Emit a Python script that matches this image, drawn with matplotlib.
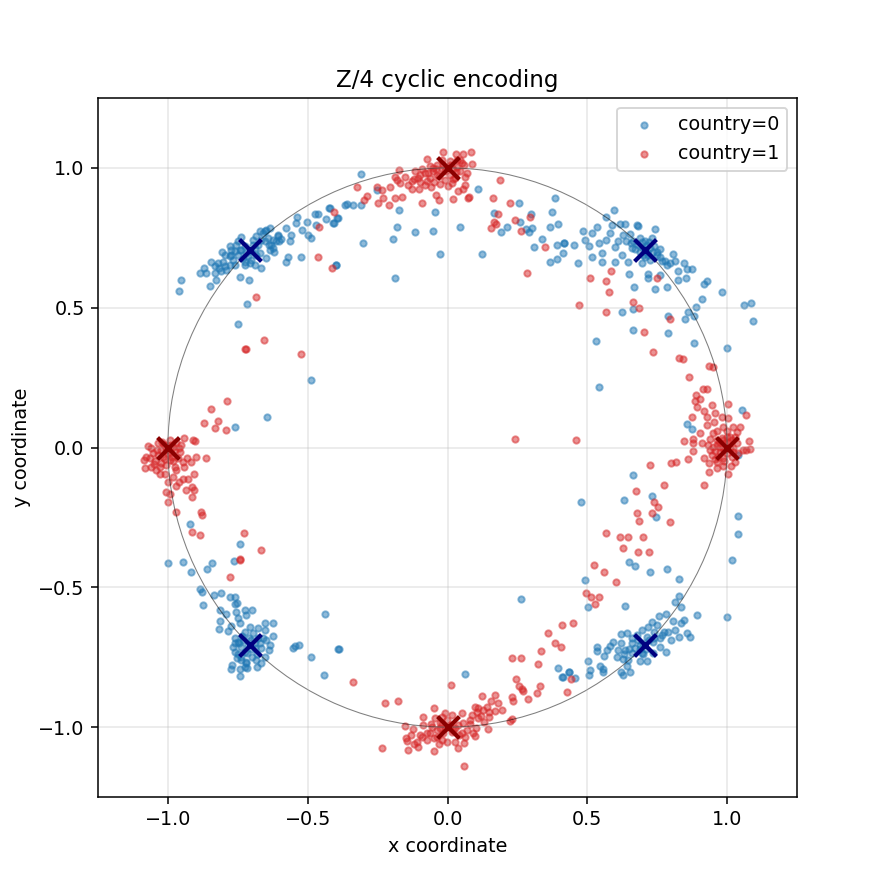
import matplotlib
matplotlib.use("Agg")
import matplotlib.pyplot as plt
from matplotlib.patches import Circle

title = "Z/4 cyclic encoding"
xlabel = "x coordinate"
ylabel = "y coordinate"
labels = ["country=0", "country=1"]
ticks = [-1.0, -0.5, 0.0, 0.5, 1.0]

blue_pts = [
    (-0.960,0.559),(-0.952,0.598),(-0.884,0.624),(-0.872,0.642),(-0.865,0.624),(-0.851,0.576),
    (-0.845,0.663),(-0.829,0.598),(-0.833,0.624),(-0.818,0.642),(-0.808,0.699),(-0.803,0.665),
    (-0.791,0.636),(-0.779,0.720),(-0.773,0.690),(-0.761,0.654),(-0.749,0.738),(-0.743,0.609),
    (-0.737,0.752),(-0.725,0.665),(-0.717,0.513),(-0.711,0.600),(-0.749,0.442),(-0.695,0.726),
    (-0.684,0.690),(-0.666,0.642),(-0.660,0.767),(-0.648,0.779),(-0.636,0.785),(-0.648,0.678),
    (-0.630,0.726),(-0.619,0.699),(-0.607,0.761),(-0.603,0.737),(-0.594,0.747),(-0.576,0.785),
    (-0.570,0.680),(-0.579,0.662),(-0.564,0.737),(-0.558,0.761),(-0.541,0.803),(-0.539,0.824),
    (-0.524,0.681),(-0.522,0.779),(-0.504,0.806),(-0.499,0.761),(-0.487,0.749),(-0.475,0.835),
    (-0.470,0.797),(-0.462,0.835),(-0.433,0.818),(-0.424,0.857),(-0.407,0.803),(-0.398,0.654),
    (-0.392,0.820),
    (-0.773,0.708),(-0.761,0.702),(-0.749,0.690),(-0.737,0.708),(-0.731,0.678),(-0.725,0.720),
    (-0.720,0.696),(-0.714,0.684),(-0.702,0.702),(-0.690,0.714),(-0.678,0.726),(-0.672,0.696),
    (-0.666,0.743),(-0.654,0.737),(-0.642,0.749),(-0.636,0.708),(-0.624,0.743),(-0.612,0.737),
    (-0.708,0.660),(-0.725,0.654),(-0.743,0.708),(-0.755,0.726),(-0.767,0.672),(-0.779,0.654),
    (-0.797,0.648),(-0.809,0.630),(-0.821,0.660),(-0.833,0.648),(-0.797,0.690),(-0.779,0.684),
    (-0.696,0.743),(-0.684,0.755),(-0.672,0.773),(-0.654,0.773),(-0.640,0.726),(-0.624,0.714),
    (-0.606,0.756),(-0.690,0.654),(-0.702,0.672),
    (-0.309,0.978),(-0.367,0.868),(-0.361,0.871),(-0.337,0.866),(-0.309,0.866),(-0.420,0.857),
    (-0.396,0.821),(-0.408,0.802),(-0.399,0.651),(-0.301,0.731),(-0.253,0.922),(-0.172,0.848),
    (-0.179,0.787),(-0.194,0.744),(-0.115,0.769),(-0.051,0.773),(-0.043,0.844),(-0.027,0.692),
    (-0.186,0.608),(0.046,0.788),(0.110,0.924),(0.122,0.692),(0.168,0.837),(0.193,0.769),
    (0.212,0.787),(0.257,0.876),(0.260,0.808),(0.279,0.782),(0.293,0.769),(0.304,0.784),
    (0.300,0.835),(0.311,0.717),(0.339,0.745),(0.367,0.787),(0.367,0.663),(0.375,0.844),
    (0.386,0.894),(0.396,0.801),(0.390,0.725),(0.393,0.674),(0.418,0.731),(0.414,0.694),
    (0.596,0.848),(0.567,0.823),(0.536,0.787),(0.518,0.767),(0.483,0.776),(0.490,0.742),
    (0.454,0.723),(0.418,0.730),(0.468,0.660),(0.505,0.721),(0.518,0.680),(0.541,0.730),
    (0.554,0.694),(0.553,0.663),(0.567,0.741),(0.581,0.767),(0.587,0.797),(0.599,0.716),
    (0.599,0.663),(0.611,0.738),(0.617,0.799),(0.635,0.799),(0.623,0.690),(0.629,0.761),
    (0.640,0.738),(0.647,0.663),(0.653,0.764),(0.659,0.714),(0.665,0.738),(0.677,0.795),
    (0.683,0.791),(0.689,0.749),(0.695,0.660),(0.698,0.690),(0.706,0.738),(0.712,0.726),
    (0.718,0.690),(0.724,0.672),(0.730,0.749),(0.742,0.781),(0.748,0.690),(0.760,0.711),
    (0.766,0.666),(0.778,0.666),(0.784,0.654),(0.796,0.660),(0.807,0.692),(0.813,0.666),
    (0.825,0.633),(0.825,0.600),(0.847,0.660),(0.855,0.637),(0.873,0.637),(0.853,0.606),
    (0.718,0.608),(0.650,0.620),(0.668,0.573),(0.742,0.567),(0.784,0.573),(0.760,0.618),
    (0.716,0.621),(0.917,0.586),(0.929,0.597),(0.983,0.556),(0.911,0.530),(0.889,0.501),
    (0.861,0.484),(0.883,0.469),(0.849,0.459),(0.790,0.469),(0.665,0.496),(0.625,0.484),
    (0.665,0.419),(0.790,0.410),(1.062,0.508),(1.084,0.517),(1.091,0.451),
    (0.700,0.715),(0.690,0.700),(0.715,0.700),(0.725,0.715),(0.705,0.680),(0.735,0.700),
    (0.740,0.720),(0.680,0.725),(0.670,0.710),(0.695,0.735),(0.720,0.735),(0.750,0.700),
    (0.760,0.680),(0.655,0.730),
    (-0.487,0.240),(-0.644,0.108),(-0.759,0.075),(-0.922,-0.274),(-0.743,-0.345),(-1.000,-0.414),
    (-0.946,-0.411),(-0.841,-0.414),(-0.764,-0.406),(-0.859,-0.434),
    (0.531,0.380),(0.883,0.373),(1.001,0.355),(0.543,0.215),(1.054,0.134),(0.858,0.083),
    (0.873,0.065),(1.040,-0.027),(0.665,-0.100),(0.479,-0.196),(0.632,-0.186),(0.733,-0.174),
    (0.747,-0.250),(1.040,-0.245),(1.040,-0.310),(1.019,-0.402),(0.650,-0.411),(0.672,-0.424),
    (0.786,-0.435),
    (-0.916,-0.446),(-0.886,-0.507),(-0.877,-0.518),(-0.873,-0.563),(-0.835,-0.528),(-0.809,-0.522),
    (-0.779,-0.534),(-0.761,-0.534),(-0.759,-0.560),(-0.752,-0.557),(-0.815,-0.581),(-0.791,-0.595),
    (-0.813,-0.620),(-0.816,-0.650),(-0.786,-0.655),(-0.774,-0.638),(-0.758,-0.587),(-0.750,-0.611),
    (-0.725,-0.581),(-0.699,-0.581),(-0.719,-0.599),(-0.741,-0.629),(-0.653,-0.629),(-0.624,-0.629),
    (-0.624,-0.674),(-0.653,-0.653),(-0.677,-0.647),(-0.707,-0.641),(-0.725,-0.659),(-0.761,-0.683),
    (-0.767,-0.712),(-0.761,-0.730),(-0.752,-0.754),(-0.737,-0.748),(-0.719,-0.766),(-0.725,-0.786),
    (-0.743,-0.793),(-0.773,-0.793),(-0.769,-0.779),(-0.741,-0.817),(-0.716,-0.790),(-0.683,-0.784),
    (-0.668,-0.772),(-0.653,-0.748),(-0.639,-0.724),(-0.636,-0.706),(-0.648,-0.688),(-0.677,-0.683),
    (-0.689,-0.718),(-0.716,-0.736),(-0.737,-0.712),(-0.749,-0.694),(-0.702,-0.688),(-0.666,-0.718),
    (-0.745,-0.700),(-0.730,-0.690),(-0.715,-0.705),(-0.700,-0.720),(-0.690,-0.700),(-0.680,-0.740),
    (-0.700,-0.750),(-0.725,-0.730),(-0.740,-0.760),(-0.760,-0.700),(-0.710,-0.680),(-0.695,-0.665),
    (-0.670,-0.700),(-0.660,-0.680),(-0.720,-0.770),(-0.750,-0.740),(-0.735,-0.675),(-0.685,-0.760),
    (-0.552,-0.718),(-0.547,-0.710),(-0.532,-0.706),(-0.487,-0.750),(-0.437,-0.596),(-0.443,-0.815),
    (-0.392,-0.722),
    (-0.387,-0.722),(0.263,-0.543),(0.063,-0.811),(0.396,-0.790),(0.411,-0.822),(0.435,-0.804),
    (0.724,-0.446),(0.829,-0.470),(0.493,-0.475),(0.503,-0.572),(0.636,-0.567),(0.829,-0.531),
    (0.814,-0.554),(0.834,-0.572),(0.893,-0.599),(1.001,-0.607),(0.757,-0.603),(0.781,-0.596),
    (0.805,-0.621),(0.834,-0.626),(0.846,-0.617),(0.858,-0.662),(0.869,-0.679),(0.827,-0.679),
    (0.799,-0.688),(0.781,-0.732),(0.814,-0.653),(0.790,-0.659),(0.766,-0.671),(0.748,-0.635),
    (0.730,-0.623),(0.718,-0.641),(0.694,-0.653),(0.677,-0.671),(0.659,-0.683),(0.641,-0.665),
    (0.620,-0.667),(0.593,-0.694),(0.581,-0.710),(0.569,-0.724),(0.561,-0.746),(0.533,-0.715),
    (0.533,-0.727),(0.503,-0.762),(0.509,-0.796),(0.507,-0.815),(0.545,-0.781),(0.555,-0.791),
    (0.557,-0.802),(0.621,-0.802),(0.626,-0.814),(0.653,-0.803),(0.641,-0.781),(0.647,-0.760),
    (0.628,-0.755),(0.605,-0.748),(0.611,-0.724),(0.635,-0.724),(0.659,-0.736),(0.688,-0.762),
    (0.714,-0.762),(0.736,-0.736),(0.760,-0.712),(0.736,-0.694),(0.712,-0.676),(0.688,-0.706),
    (0.670,-0.718),(0.694,-0.736),(0.412,-0.820),(0.436,-0.803),(0.456,-0.826),
    (0.700,-0.700),(0.720,-0.690),(0.680,-0.690),(0.710,-0.720),(0.740,-0.680),(0.660,-0.700),
    (0.650,-0.720),(0.690,-0.720),(0.760,-0.680),(0.775,-0.660),(0.620,-0.700),(0.630,-0.740),
    (0.740,-0.660),(0.700,-0.740),
]

red_pts = [
    (-0.406,0.842),(-0.459,0.787),(-0.463,0.680),(-0.412,0.642),(-0.684,0.537),(-0.656,0.385),
    (-0.723,0.352),
    (-0.015,1.057),(-0.072,1.032),(0.030,1.049),(0.057,1.049),(0.083,1.057),(0.086,1.014),
    (0.062,0.966),(0.064,0.940),(0.057,0.926),(0.039,0.919),(0.021,0.889),(0.072,0.892),
    (0.078,0.895),(-0.029,0.884),(-0.041,0.902),(-0.090,0.873),(-0.172,0.992),(-0.186,0.969),
    (-0.181,0.957),(-0.170,0.946),(-0.140,0.940),(-0.128,0.926),(-0.101,0.926),(-0.128,0.954),
    (-0.104,0.964),(-0.116,0.990),(-0.080,0.982),(-0.063,0.964),(-0.051,1.000),(-0.039,0.976),
    (-0.027,0.942),(-0.009,0.957),(0.015,0.946),(0.027,0.964),(0.045,0.988),(0.051,1.017),
    (0.033,1.030),(0.009,1.024),(-0.015,1.012),(-0.039,1.012),(-0.063,1.006),(-0.051,0.988),
    (-0.075,0.952),(-0.152,0.966),(-0.206,0.930),(-0.235,0.921),(-0.229,0.894),(-0.253,0.933),
    (-0.322,0.930),(-0.289,0.900),(-0.297,0.886),(-0.250,0.876),(-0.211,0.868),(-0.186,0.892),
    (-0.161,0.895),
    (-0.020,0.995),(0.000,1.005),(0.020,0.995),(-0.030,0.970),(0.010,0.975),(-0.090,0.995),
    (-0.100,0.950),(0.035,1.005),(-0.060,0.930),(0.000,0.935),
    (-0.010,0.990),(0.010,1.010),(0.030,0.985),(-0.040,0.995),(-0.070,0.980),(-0.020,1.030),
    (0.045,1.030),(0.060,1.010),(-0.100,0.975),(-0.120,0.960),(-0.080,0.940),(0.020,0.960),
    (-0.050,0.950),(0.070,0.980),
    (0.188,0.955),(0.164,0.892),(0.224,0.873),(0.182,0.835),(0.166,0.806),(0.172,0.799),
    (0.155,0.785),(0.241,0.812),(0.263,0.773),(0.295,0.826),(0.349,0.717),(0.286,0.624),
    (0.509,0.608),(0.585,0.630),(0.567,0.594),(0.577,0.556),(0.472,0.508),(0.567,0.484),
    (0.665,0.520),(0.686,0.499),(0.750,0.608),(0.796,0.459),(0.704,0.413),
    (-0.719,0.351),(-0.523,0.336),(-0.787,0.167),(-0.845,0.137),(-0.871,0.086),(-0.821,0.095),
    (-0.830,0.069),(-0.791,0.063),(-0.943,0.033),(-0.910,0.027),(-0.904,0.024),(-0.898,-0.035),
    (-0.863,-0.039),(-0.930,-0.039),(-0.918,-0.051),(-0.944,-0.071),(-0.906,-0.095),(-0.983,-0.104),
    (-0.929,-0.113),(-0.946,-0.114),(-1.000,-0.124),(-0.962,-0.125),(-0.970,-0.137),(-0.913,-0.142),
    (-0.907,-0.152),(-0.936,-0.152),(-1.006,-0.160),(-0.991,-0.167),(-0.914,-0.176),(-0.998,-0.196),
    (-0.970,-0.229),(-0.881,-0.229),(-0.877,-0.241),(-0.913,-0.301),(-0.884,-0.313),(-0.728,-0.307),
    (-0.666,-0.367),(-0.743,-0.399),
    (-1.083,-0.074),(-1.071,0.006),(-1.065,-0.039),(-1.059,-0.069),(-1.053,-0.020),(-1.047,-0.050),
    (-1.041,-0.080),(-1.035,0.015),(-1.029,-0.095),(-1.023,-0.009),(-1.023,-0.057),(-1.017,-0.033),
    (-1.012,-0.095),(-1.012,0.009),(-1.006,-0.063),(-0.994,0.027),(-0.994,-0.044),(-0.988,-0.020),
    (-0.982,0.003),(-0.976,-0.069),(-0.970,0.021),(-0.964,-0.039),(-0.958,-0.015),(-0.952,0.009),
    (-0.946,-0.051),(-1.085,-0.045),(-1.077,-0.033),(-1.059,-0.003),(-1.035,-0.027),(-1.006,-0.009),
    (-0.976,-0.009),(-1.000,0.000),(-1.015,0.010),(-0.985,-0.035),
    (-1.000,-0.020),(-1.010,-0.040),(-0.990,0.010),(-1.020,0.020),(-0.980,-0.050),(-1.040,-0.010),
    (-0.960,0.000),(-1.050,-0.060),(-0.970,-0.080),(-1.030,-0.070),
    (0.243,0.029),(0.460,0.027),
    (0.736,0.340),(0.829,0.319),(0.841,0.315),(0.936,0.291),(0.948,0.287),(0.865,0.251),
    (0.915,0.208),(0.929,0.208),(0.888,0.187),(0.885,0.166),(0.903,0.172),(0.891,0.144),
    (0.945,0.151),(1.004,0.154),(0.917,0.132),(0.927,0.108),(0.957,0.125),(0.927,0.079),
    (0.953,0.092),(0.980,0.108),(1.004,0.104),(0.873,0.108),(1.066,0.115),(1.022,0.072),
    (1.046,0.072),(1.034,0.057),(0.984,0.072),(0.903,0.051),(0.951,0.051),(0.877,0.029),
    (0.847,0.023),(0.879,0.015),(0.909,0.015),(0.933,0.009),(1.080,0.023),(1.082,-0.005),
    (1.068,-0.009),(1.056,-0.009),(1.034,0.015),(0.963,0.027),(0.975,0.003),(0.957,-0.014),
    (0.945,-0.027),(0.879,-0.013),(0.861,-0.042),(0.917,-0.036),(0.936,-0.057),(0.963,-0.051),
    (0.986,-0.039),(1.016,-0.033),(1.028,-0.051),(1.013,-0.066),(0.986,-0.066),(0.963,-0.075),
    (0.936,-0.087),(1.004,-0.096),(0.917,-0.135),(0.817,-0.052),(0.799,-0.057),(0.724,-0.063),
    (0.776,-0.135),(0.675,-0.157),(0.740,-0.195),(0.754,-0.214),(0.679,-0.236),(0.732,-0.236),
    (0.686,-0.264),(0.796,-0.268),(0.568,-0.307),(0.618,-0.321),(0.647,-0.321),(0.700,-0.321),
    (0.629,-0.361),(0.682,-0.375),(0.722,-0.375),(0.525,-0.421),(0.986,0.027),(1.010,0.039),
    (0.963,0.009),(0.975,-0.015),(0.992,0.015),(0.998,-0.021),(1.010,-0.003),(1.022,-0.015),
    (0.986,-0.003),(0.969,-0.033),(0.951,0.003),(0.939,-0.009),(1.016,0.027),(1.028,0.039),
    (0.998,0.039),(0.980,0.033),
    (1.000,0.000),(0.990,-0.010),(1.005,0.020),(0.970,0.020),(1.020,0.000),(0.955,-0.040),
    (0.990,-0.050),(1.000,0.060),(0.940,0.030),(0.965,0.060),(1.040,-0.020),
    (-0.779,-0.464),(-0.743,-0.402),
    (-0.337,-0.840),(-0.222,-0.915),(-0.176,-0.908),(-0.233,-1.076),(0.014,-0.851),(0.060,-1.139),
    (-0.047,-1.087),(-0.140,-1.082),(-0.151,-0.995),(-0.124,-1.008),(-0.149,-1.040),(-0.146,-1.048),
    (-0.119,-1.060),(-0.107,-1.072),(-0.098,-1.028),(-0.086,-0.963),(-0.086,-0.992),(-0.074,-1.046),
    (-0.063,-1.022),(-0.057,-0.998),(-0.047,-0.933),(-0.045,-0.969),(-0.039,-1.034),(-0.027,-0.986),
    (-0.021,-0.963),(-0.015,-1.022),(-0.003,-1.052),(0.015,-0.957),(0.027,-1.052),(0.039,-1.076),
    (0.051,-0.951),(0.057,-0.986),(0.060,-1.058),(0.063,-1.034),(0.069,-1.010),(0.081,-0.974),
    (0.086,-0.957),(0.098,-0.927),(0.100,-1.032),(0.101,-1.004),(0.104,-0.945),(0.110,-0.969),
    (0.122,-0.888),(0.128,-0.939),(0.140,-0.927),(0.146,-1.007),(0.150,-0.963),(0.155,-0.905),
    (0.170,-0.885),(0.170,-0.941),(0.180,-0.913),(0.196,-0.939),(0.224,-0.977),(0.230,-0.972),
    (0.230,-0.891),(0.233,-0.905),(0.230,-0.754),(0.244,-0.828),(0.257,-0.853),(0.265,-0.865),
    (0.271,-0.870),(0.262,-0.754),(0.287,-0.900),(0.321,-0.879),(0.331,-0.853),(0.325,-0.776),
    (0.334,-0.728),(0.361,-0.665),(0.386,-0.700),(0.406,-0.715),(0.411,-0.635),(0.429,-0.874),
    (-0.027,-1.002),(-0.009,-1.004),(0.009,-0.992),(0.015,-1.016),(0.027,-1.004),(0.039,-0.992),
    (-0.003,-0.975),(-0.039,-1.010),(-0.074,-1.022),(-0.092,-1.034),(-0.110,-1.052),(-0.021,-1.046),
    (0.051,-1.022),(-0.009,-0.951),
    (0.000,-1.000),(-0.020,-0.990),(0.020,-1.010),(0.040,-1.030),(-0.050,-1.040),(-0.060,-0.990),
    (0.080,-0.990),(0.090,-1.020),(0.120,-0.960),(0.130,-0.980),(-0.030,-1.060),(-0.130,-1.030),
    (0.150,-0.945),(0.110,-0.930),
    (0.561,-0.446),(0.603,-0.482),(0.497,-0.522),(0.514,-0.534),(0.543,-0.536),(0.529,-0.561),
    (0.448,-0.629),(0.441,-0.829),
]

blue_x = [p[0] for p in blue_pts]
blue_y = [p[1] for p in blue_pts]
red_x = [p[0] for p in red_pts]
red_y = [p[1] for p in red_pts]

blue_centers_x = [0.7071, -0.7071, -0.7071, 0.7071]
blue_centers_y = [0.7071, 0.7071, -0.7071, -0.7071]
red_centers_x = [1.0, 0.0, -1.0, 0.0]
red_centers_y = [0.0, 1.0, 0.0, -1.0]

DPI = 138
fig = plt.figure(figsize=(896 / DPI, 896 / DPI), dpi=DPI)
ax = fig.add_axes([98/896, 99/896, 699/896, 699/896])

ax.scatter(blue_x, blue_y, s=11, color="tab:blue", alpha=0.5, label=labels[0])
ax.scatter(red_x, red_y, s=11, color="tab:red", alpha=0.5, label=labels[1])
ax.scatter(blue_centers_x, blue_centers_y, marker="x", s=130, linewidths=2.2, color="navy", zorder=5)
ax.scatter(red_centers_x, red_centers_y, marker="x", s=130, linewidths=2.2, color="darkred", zorder=5)

ax.add_patch(Circle((0, 0), 1.0, fill=False, color="black", alpha=0.5, lw=0.55))

ax.set_xlim(-1.25, 1.25)
ax.set_ylim(-1.25, 1.25)
ax.set_aspect("equal")
ax.set_xticks(ticks)
ax.set_yticks(ticks)
ax.grid(True, alpha=0.3)
ax.set_title(title, fontsize=12)
ax.set_xlabel(xlabel)
ax.set_ylabel(ylabel)
ax.legend(loc="upper right")

fig.savefig("out.png", dpi=DPI)
